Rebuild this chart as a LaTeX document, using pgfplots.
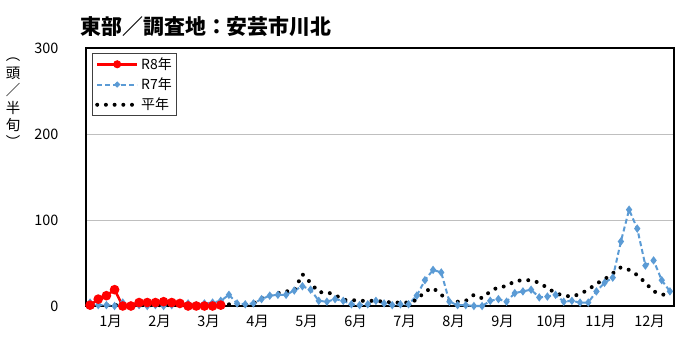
\documentclass[border=0pt]{standalone}
\usepackage{fontspec}
\setmainfont{Noto Sans CJK JP}
\usepackage{pgfplots}
\usepackage{pgfplotstable}
\pgfplotsset{compat=1.18}
\definecolor{rsblue}{RGB}{91,155,213}

\pgfplotstableread{
i r7 avg
1 4 4
2 1 2
3 1 1
4 0 1
5 4 1
6 0 1
7 1 1
8 0 1
9 1 1
10 0 1
11 1 1
12 2 1
13 3 1
14 1 1
15 3 1
16 4 1
17 6 1
18 13 2
19 3 1
20 2 1
21 3 3
22 8 9
23 12 12
24 13 15
25 13 17
26 18 18
27 23 37
28 19 27
29 6 16
30 5 16
31 8 13
32 6 7
33 2 7
34 1 6
35 2 6
36 6 6
37 3 5
38 1 4
39 2 4
40 2 4
41 12 7
42 30 17
43 42 21
44 39 13
45 5 6
46 1 5
47 1 6
48 0 13
49 0 9
50 6 17
51 8 22
52 5 23
53 15 29
54 17 30
55 19 30
56 10 27
57 11 21
58 13 15
59 5 12
60 6 11
61 4 14
62 4 19
63 17 26
64 27 31
65 33 38
66 75 45
67 112 42
68 90 36
69 47 27
70 53 17
71 30 14
72 17 10
}\tblmain

\pgfplotstableread{
i r8
1 1
2 8
3 12
4 19
5 0
6 0
7 4
8 4
9 4
10 5
11 4
12 3
13 0
14 0
15 0
16 0
17 1
}\tblreight

\begin{document}
\begin{tikzpicture}
\path[use as bounding box] (0,0) rectangle (700bp,355bp);
\begin{axis}[
  at={(86bp,49bp)}, anchor=south west,
  width=588bp, height=258bp, scale only axis,
  xmin=0.5, xmax=72.5, ymin=0, ymax=300,
  axis line style={line width=1.5bp},
  tick pos=left,
  ytick={0,100,200,300}, yticklabels={0,100,200,300},
  ytick style={draw=none},
  ymajorgrids, grid style={black!25, line width=0.9bp},
  xtick={3.5,9.5,...,69.5},
  xticklabels={1月,2月,3月,4月,5月,6月,7月,8月,9月,10月,11月,12月},
  xtick style={draw=none},
  extra x ticks={6.5,12.5,...,66.5}, extra x tick labels={},
  extra x tick style={tick align=inside, major tick length=5bp,
    tick style={black, line width=1.5bp}},
  tick label style={font=\fontsize{14.5}{16}\selectfont},
  yticklabel style={xshift=-24bp},
  xticklabel style={yshift=-6bp},
  clip=false,
  legend style={at={(0.0097,0.982)}, anchor=north west, draw=black!75,
    line width=1bp, font=\fontsize{14}{16}\selectfont,
    inner xsep=3bp, inner ysep=2.5bp, row sep=3bp},
  legend cell align=left,
]
\addlegendimage{legend image code/.code={\draw[red,line width=2.5bp](0bp,0bp)--(40bp,0bp); \fill[red](20bp,0bp) circle(3.5bp);}}
\addlegendentry{R8年}
\addlegendimage{legend image code/.code={\draw[rsblue,line width=2bp,dash pattern=on 5bp off 3bp](0bp,0bp)--(40bp,0bp); \fill[rsblue](20bp,-2.5bp)--(22.5bp,0bp)--(20bp,2.5bp)--(17.5bp,0bp)--cycle;}}
\addlegendentry{R7年}
\addlegendimage{legend image code/.code={\draw[black,line width=4bp,line cap=round,dash pattern=on 0bp off 8.7bp](0bp,0bp)--(40bp,0bp);}}
\addlegendentry{平年}

\addplot[forget plot, rsblue, line width=2bp, dash pattern=on 5bp off 3bp,
  mark=diamond*, mark size=2.6bp, mark options={solid, fill=rsblue, draw=rsblue}]
  table[x=i, y=r7] {\tblmain};
\addplot[forget plot, black, line width=4bp, line cap=round, dash pattern=on 0bp off 8.7bp]
  table[x=i, y=avg] {\tblmain};
\addplot[forget plot, red, line width=2.5bp, mark=*, mark size=3.5bp,
  mark options={solid, fill=red, draw=red}]
  table[x=i, y=r8] {\tblreight};
\end{axis}
\node[anchor=west, font=\fontsize{21}{24}\selectfont\bfseries] at (77bp,328bp) {東部／調査地：安芸市川北};
\node[align=center, font=\fontsize{14.5}{17.5}\selectfont] at (13bp,252bp) {︵\\頭\\／\\半\\旬\\︶};
\end{tikzpicture}
\end{document}
